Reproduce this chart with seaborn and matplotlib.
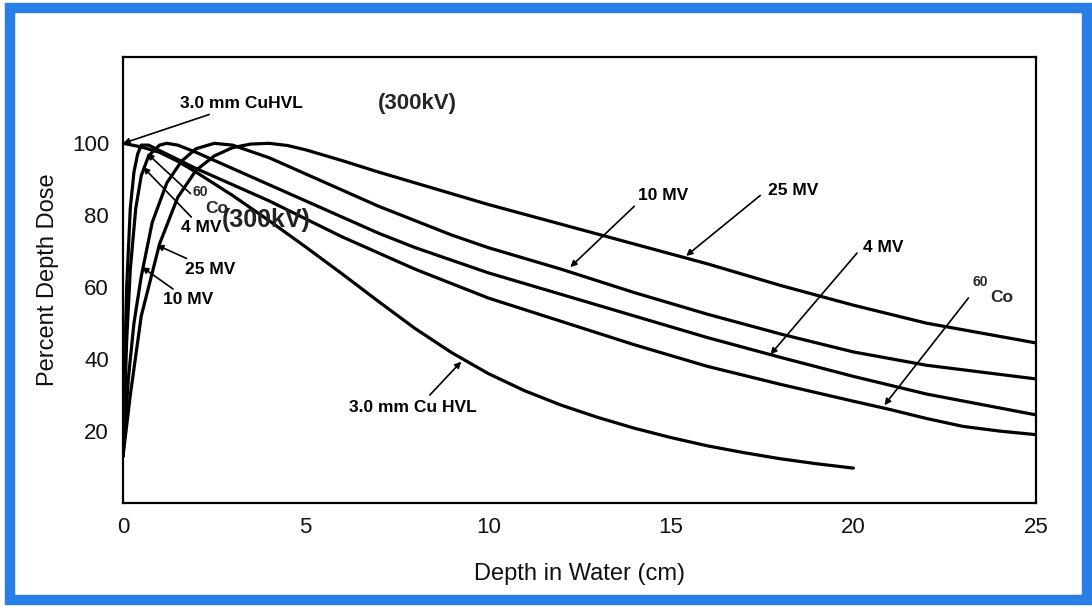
import numpy as np
import pandas as pd
import matplotlib
matplotlib.use("Agg")
import matplotlib.pyplot as plt
from matplotlib.patches import Rectangle
import seaborn as sns

# ---------------- data ----------------
x_25mv = [0, 0.2, 0.5, 1.0, 1.5, 2.0, 2.5, 3.0, 3.5, 4.0, 4.5, 5, 6, 7, 8, 9, 10, 12, 14, 16, 18, 20, 22, 25]
y_25mv = [13, 30, 52, 72, 85, 92.5, 96.5, 98.8, 99.8, 100, 99.4, 98.2, 95.2, 92, 89, 86, 83, 77.5, 72, 66.5, 60.5, 55, 50, 44.5]

x_10mv = [0, 0.15, 0.3, 0.5, 0.8, 1.2, 1.6, 2.0, 2.5, 3, 4, 5, 6, 7, 8, 9, 10, 12, 14, 16, 18, 20, 22, 25]
y_10mv = [13, 35, 50, 63, 78, 89, 95, 98.5, 100, 99.5, 96, 91.5, 87, 82.5, 78.5, 74.5, 71, 65, 58.5, 52.5, 47, 42, 38.3, 34.5]

x_4mv = [0, 0.1, 0.2, 0.35, 0.5, 0.7, 1.0, 1.2, 1.5, 2, 3, 4, 5, 6, 7, 8, 9, 10, 12, 14, 16, 18, 20, 22, 25]
y_4mv = [13, 45, 65, 82, 91, 96.5, 99.5, 100, 99.5, 97.5, 93, 88.5, 84, 79.5, 75, 71, 67.5, 64, 58, 52, 46, 40.5, 35.2, 30.3, 24.5]

x_co = [0, 0.05, 0.1, 0.2, 0.3, 0.4, 0.5, 0.7, 1.0, 1.5, 2, 3, 4, 5, 6, 7, 8, 9, 10, 12, 14, 16, 18, 20, 21, 22, 23, 24, 25]
y_co = [13, 40, 60, 82, 92, 97, 99.5, 99.5, 98, 95.5, 93, 88.5, 84, 79, 74, 69.5, 65, 61, 57, 50.5, 44, 38, 33, 28.3, 26, 23.5, 21.3, 20, 19]

x_300kv = [0, 0.5, 1, 1.5, 2, 3, 4, 5, 6, 7, 8, 9, 10, 11, 12, 13, 14, 15, 16, 17, 18, 19, 20]
y_300kv = [100, 99, 97.5, 95, 92, 85.5, 78.5, 71.2, 63.7, 56, 48.5, 41.8, 36, 31.2, 27.2, 23.8, 20.8, 18.2, 15.9, 14, 12.3, 10.9, 9.7]

curve_names = ["25 MV", "10 MV", "4 MV", "60Co", "3.0 mm Cu HVL"]
x_ticks = [0, 5, 10, 15, 20, 25]
y_ticks = [20, 40, 60, 80, 100]

frames = []
for name, xs, ys in zip(curve_names,
                        [x_25mv, x_10mv, x_4mv, x_co, x_300kv],
                        [y_25mv, y_10mv, y_4mv, y_co, y_300kv]):
    frames.append(pd.DataFrame({"depth": xs, "pdd": ys, "beam": name}))
df = pd.concat(frames, ignore_index=True)

# ---------------- figure ----------------
sns.set_theme(style="white")
plt.rcParams["font.family"] = ["Liberation Sans", "DejaVu Sans"]

W, H = 1092, 611
fig = plt.figure(figsize=(W / 100, H / 100), dpi=100)
fig.patch.set_facecolor("white")

ax = fig.add_axes([123 / W, (H - 503) / H, (1036 - 123) / W, (503 - 57) / H])
sns.lineplot(data=df, x="depth", y="pdd", hue="beam", units="beam", estimator=None,
             palette=["black"] * len(curve_names), legend=False, linewidth=2.3,
             sort=True, ax=ax)
for ln in ax.get_lines():
    ln.set_solid_capstyle("round")
    ln.set_solid_joinstyle("round")

ax.set_xlim(0, 25)
ax.set_ylim(0, 124)
ax.set_xticks(x_ticks)
ax.set_yticks(y_ticks)
ax.set_xticklabels([str(v) for v in x_ticks], fontsize=16)
ax.set_yticklabels([str(v) for v in y_ticks], fontsize=16)
ax.tick_params(direction="in", length=12, width=1.3, color="black", pad=10,
               labelcolor="#111111")
for sp in ax.spines.values():
    sp.set_visible(True)
    sp.set_color("black")
    sp.set_linewidth(1.6)
ax.set_xlabel("Depth in Water (cm)", fontsize=17, labelpad=18, color="#111111")
ax.set_ylabel("Percent Depth Dose", fontsize=17, labelpad=9, color="#111111")
ax.set_facecolor("white")

arw = dict(arrowstyle="-|>", color="black", lw=1.2, mutation_scale=9, shrinkA=0, shrinkB=0)
lab = dict(fontsize=12.5, fontweight="bold", color="black")

# left-side labels
ax.annotate("3.0 mm CuHVL", xy=(0, 100), xytext=(1.56, 111), va="center", ha="left",
            arrowprops=arw, **lab)
ax.annotate("", xy=(0.66, 97.2), xytext=(1.85, 86), arrowprops=arw)
ax.text(1.9, 86.5, "60", fontsize=10, fontweight="bold", va="center", ha="left")
ax.text(2.25, 82.0, "Co", fontsize=12.5, fontweight="bold", va="center", ha="left")
ax.annotate("4 MV", xy=(0.55, 93.4), xytext=(1.6, 76.5), va="center", ha="left",
            arrowprops=arw, **lab)
ax.annotate("25 MV", xy=(0.93, 71.7), xytext=(1.7, 65.0), va="center", ha="left",
            arrowprops=arw, **lab)
ax.annotate("10 MV", xy=(0.52, 65.6), xytext=(1.1, 56.5), va="center", ha="left",
            arrowprops=arw, **lab)

# right-side labels
ax.annotate("", xy=(12.25, 65.6), xytext=(14.0, 82.5), arrowprops=arw)
ax.text(14.1, 85.6, "10 MV", va="center", ha="left", **lab)
ax.annotate("", xy=(15.42, 68.7), xytext=(17.45, 85.5), arrowprops=arw)
ax.text(17.67, 87.0, "25 MV", va="center", ha="left", **lab)
ax.annotate("", xy=(17.73, 41.3), xytext=(20.1, 69.5), arrowprops=arw)
ax.text(20.25, 70.9, "4 MV", va="center", ha="left", **lab)
ax.annotate("", xy=(20.85, 27.2), xytext=(23.15, 57.0), arrowprops=arw)
ax.text(23.26, 61.5, "60", fontsize=10, fontweight="bold", va="center", ha="left")
ax.text(23.75, 57.0, "Co", fontsize=12.5, fontweight="bold", va="center", ha="left")
ax.annotate("", xy=(9.26, 39.3), xytext=(8.4, 30.0), arrowprops=arw)
ax.text(6.2, 26.6, "3.0 mm Cu HVL", va="center", ha="left", **lab)

# overlay texts
ax.text(6.99, 111, "(300kV)", fontsize=16, fontweight="bold", va="center", ha="left")
ax.text(2.71, 78.7, "(300kV)", fontsize=18, fontweight="bold", va="center", ha="left",
        color="#222222")

# blue frame around the figure
fig.add_artist(Rectangle((10 / W, 11 / H), (1087 - 10) / W, (603 - 11) / H,
                         transform=fig.transFigure, fill=False,
                         edgecolor="#2a7fe6", linewidth=7.5, zorder=10))

fig.savefig("out.png", dpi=100)
